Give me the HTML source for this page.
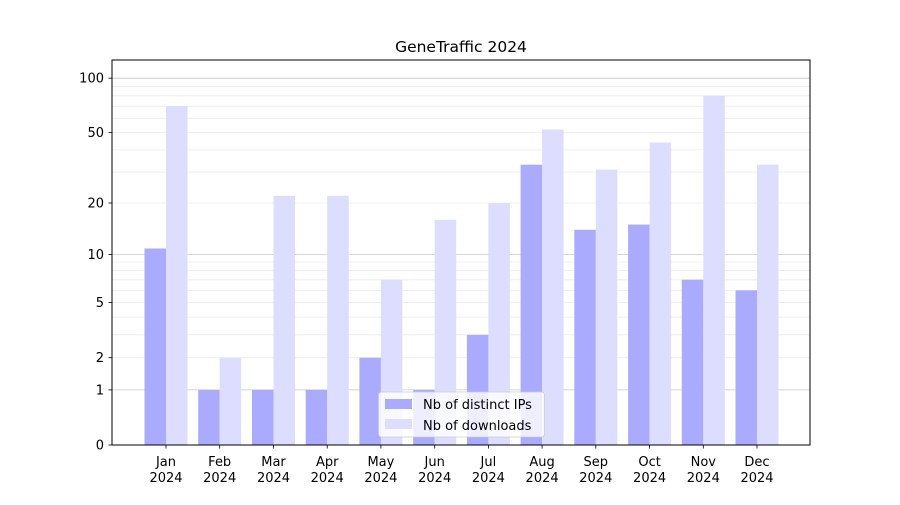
<!DOCTYPE html>
<html><head><meta charset="utf-8"><style>
html,body{margin:0;padding:0;background:#fff;}
svg text{font-family:"DejaVu Sans","Liberation Sans",sans-serif;font-size:13px;fill:#000;}
</style></head><body>
<svg width="900" height="500" xmlns="http://www.w3.org/2000/svg">
<rect width="900" height="500" fill="#fff"/>
<g stroke="#ebebeb" stroke-width="0.8">
<line x1="112" x2="810" y1="357.7" y2="357.7"/><line x1="112" x2="810" y1="334.8" y2="334.8"/>
<line x1="112" x2="810" y1="317.1" y2="317.1"/><line x1="112" x2="810" y1="302.6" y2="302.6"/>
<line x1="112" x2="810" y1="290.4" y2="290.4"/><line x1="112" x2="810" y1="279.8" y2="279.8"/>
<line x1="112" x2="810" y1="270.4" y2="270.4"/><line x1="112" x2="810" y1="262" y2="262"/>
<line x1="112" x2="810" y1="203" y2="203"/><line x1="112" x2="810" y1="172.1" y2="172.1"/>
<line x1="112" x2="810" y1="149.9" y2="149.9"/><line x1="112" x2="810" y1="132.5" y2="132.5"/>
<line x1="112" x2="810" y1="118.3" y2="118.3"/><line x1="112" x2="810" y1="106.2" y2="106.2"/>
<line x1="112" x2="810" y1="95.8" y2="95.8"/><line x1="112" x2="810" y1="86.5" y2="86.5"/>
</g>
<g stroke="#c8c8c8" stroke-width="0.8">
<line x1="112" x2="810" y1="389.9" y2="389.9"/><line x1="112" x2="810" y1="254.4" y2="254.4"/><line x1="112" x2="810" y1="78.2" y2="78.2"/>
</g>
<g fill="#aaaaff">
<rect x="144.5" y="248.5" width="21.5" height="196.5"/>
<rect x="198.2" y="389.9" width="21.5" height="55.1"/>
<rect x="252" y="389.9" width="21.5" height="55.1"/>
<rect x="305.7" y="389.9" width="21.5" height="55.1"/>
<rect x="359.4" y="357.7" width="21.5" height="87.3"/>
<rect x="413.2" y="389.9" width="21.5" height="55.1"/>
<rect x="466.9" y="334.8" width="21.5" height="110.2"/>
<rect x="520.6" y="164.7" width="21.5" height="280.3"/>
<rect x="574.3" y="229.8" width="21.5" height="215.2"/>
<rect x="628.1" y="224.6" width="21.5" height="220.4"/>
<rect x="681.8" y="279.7" width="21.5" height="165.3"/>
<rect x="735.5" y="290.3" width="21.5" height="154.7"/>
</g>
<g fill="#ddddff">
<rect x="166" y="106.2" width="21.5" height="338.8"/>
<rect x="219.7" y="357.7" width="21.5" height="87.3"/>
<rect x="273.5" y="195.8" width="21.5" height="249.2"/>
<rect x="327.2" y="195.8" width="21.5" height="249.2"/>
<rect x="380.9" y="279.7" width="21.5" height="165.3"/>
<rect x="434.7" y="219.8" width="21.5" height="225.2"/>
<rect x="488.4" y="203" width="21.5" height="242"/>
<rect x="542.1" y="129.5" width="21.5" height="315.5"/>
<rect x="595.8" y="169.6" width="21.5" height="275.4"/>
<rect x="649.6" y="142.5" width="21.5" height="302.5"/>
<rect x="703.3" y="95.7" width="21.5" height="349.3"/>
<rect x="757" y="164.7" width="21.5" height="280.3"/>
</g>
<rect x="112" y="60" width="698" height="385" fill="none" stroke="#000" stroke-width="1"/>
<g stroke="#000" stroke-width="0.8">
<line x1="108.5" x2="112" y1="445" y2="445"/><line x1="108.5" x2="112" y1="389.9" y2="389.9"/>
<line x1="108.5" x2="112" y1="357.7" y2="357.7"/><line x1="108.5" x2="112" y1="302.6" y2="302.6"/>
<line x1="108.5" x2="112" y1="254.4" y2="254.4"/><line x1="108.5" x2="112" y1="203" y2="203"/>
<line x1="108.5" x2="112" y1="132.5" y2="132.5"/><line x1="108.5" x2="112" y1="78.2" y2="78.2"/>
</g>
<g text-anchor="end">
<text x="104" y="449.5">0</text><text x="104" y="394.4">1</text><text x="104" y="362.2">2</text>
<text x="104" y="307.1">5</text><text x="104" y="258.9">10</text><text x="104" y="207.5">20</text>
<text x="104" y="137">50</text><text x="104" y="82.7">100</text>
</g>
<g stroke="#000" stroke-width="0.8">
<line x1="166" x2="166" y1="445" y2="448.5"/><line x1="219.7" x2="219.7" y1="445" y2="448.5"/>
<line x1="273.5" x2="273.5" y1="445" y2="448.5"/><line x1="327.2" x2="327.2" y1="445" y2="448.5"/>
<line x1="380.9" x2="380.9" y1="445" y2="448.5"/><line x1="434.7" x2="434.7" y1="445" y2="448.5"/>
<line x1="488.4" x2="488.4" y1="445" y2="448.5"/><line x1="542.1" x2="542.1" y1="445" y2="448.5"/>
<line x1="595.8" x2="595.8" y1="445" y2="448.5"/><line x1="649.6" x2="649.6" y1="445" y2="448.5"/>
<line x1="703.3" x2="703.3" y1="445" y2="448.5"/><line x1="757" x2="757" y1="445" y2="448.5"/>
</g>
<g text-anchor="middle">
<text x="166" y="466">Jan</text><text x="166" y="482">2024</text>
<text x="219.7" y="466">Feb</text><text x="219.7" y="482">2024</text>
<text x="273.5" y="466">Mar</text><text x="273.5" y="482">2024</text>
<text x="327.2" y="466">Apr</text><text x="327.2" y="482">2024</text>
<text x="380.9" y="466">May</text><text x="380.9" y="482">2024</text>
<text x="434.7" y="466">Jun</text><text x="434.7" y="482">2024</text>
<text x="488.4" y="466">Jul</text><text x="488.4" y="482">2024</text>
<text x="542.1" y="466">Aug</text><text x="542.1" y="482">2024</text>
<text x="595.8" y="466">Sep</text><text x="595.8" y="482">2024</text>
<text x="649.6" y="466">Oct</text><text x="649.6" y="482">2024</text>
<text x="703.3" y="466">Nov</text><text x="703.3" y="482">2024</text>
<text x="757" y="466">Dec</text><text x="757" y="482">2024</text>
<text x="461" y="52" style="font-size:15.5px">GeneTraffic 2024</text>
</g>
<rect x="378.5" y="392" width="166" height="45" rx="3" fill="#fff" fill-opacity="0.8" stroke="#ccc" stroke-width="0.8"/>
<rect x="385" y="399" width="27" height="10" fill="#aaaaff"/>
<rect x="385" y="419" width="27" height="10" fill="#ddddff"/>
<text x="423" y="409">Nb of distinct IPs</text>
<text x="423" y="430">Nb of downloads</text>
</svg>
</body></html>
